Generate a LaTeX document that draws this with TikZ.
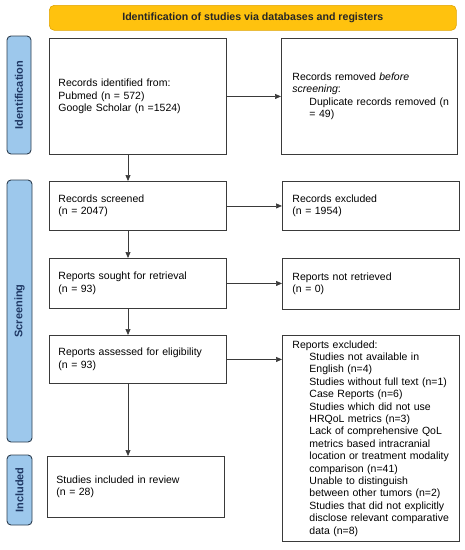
\documentclass[tikz,border=0pt]{standalone}
\usepackage{fontspec}
\setmainfont{Liberation Sans}
\usetikzlibrary{arrows.meta}
\definecolor{barfill}{HTML}{FFC20E}
\definecolor{barline}{HTML}{E0A400}
\definecolor{sidefill}{HTML}{9DC8EC}
\definecolor{sideline}{HTML}{2D3E50}
\definecolor{sidetext}{HTML}{1F3864}
\definecolor{boxline}{HTML}{3A3A3A}
\newcommand{\ind}{\hspace*{17pt}}
\tikzset{
  box/.style={draw=boxline, line width=0.9pt, anchor=north west, align=left,
    inner xsep=9pt, inner ysep=0pt, font=\fontsize{10.5}{12.4}\selectfont},
  side/.style={draw=sideline, fill=sidefill, line width=0.9pt, rounded corners=4pt},
  sidelabel/.style={rotate=90, font=\bfseries\fontsize{11}{12}\selectfont, text=sidetext},
  arr/.style={draw=boxline, line width=0.7pt, -{Triangle[length=6pt,width=5pt]}}
}
\begin{document}
\begin{tikzpicture}[x=1pt, y=-1pt]
\useasboundingbox (0,0) rectangle (465,550);
% title bar
\node[draw=barline, fill=barfill, line width=0.6pt, rounded corners=5pt, anchor=north west,
  minimum width=407pt, minimum height=25pt, inner sep=0pt,
  font=\bfseries\fontsize{10.6}{12}\selectfont, text=black!85] (title) at (49,5)
  {Identification of studies via databases and registers};
% side labels
\draw[side] (7,36) rectangle (31,154);
\node[sidelabel] (lid) at (19,95) {Identification};
\draw[side] (7,180) rectangle (32,442);
\node[sidelabel] (lsc) at (19.5,311) {Screening};
\draw[side] (7,455) rectangle (32,525);
\node[sidelabel] (lin) at (19.5,490) {Included};
% boxes
\node[box, minimum width=177pt, minimum height=116pt, text width=159pt] (ident) at (49,38)
  {Records identified from:\\Pubmed (n = 572)\\Google Scholar (n =1524)};
\node[box, minimum width=176pt, minimum height=116pt, text width=154pt, inner xsep=11pt] (removed) at (281,38)
  {Records removed \textit{before}\\\textit{screening}:\\\ind\rlap{Duplicate records removed (n}\\\ind = 49)\\[8pt]};
\node[box, minimum width=177pt, minimum height=49pt, text width=159pt] (screened) at (49,181)
  {Records screened\\(n = 2047)};
\node[box, minimum width=177pt, minimum height=49pt, text width=157pt, inner xsep=10pt] (excl) at (282,181)
  {Records excluded\\(n = 1954)};
\node[box, minimum width=177pt, minimum height=50pt, text width=159pt] (sought) at (49,258)
  {Reports sought for retrieval\\(n = 93)};
\node[box, minimum width=177pt, minimum height=51pt, text width=157pt, inner xsep=10pt] (notret) at (282,258)
  {Reports not retrieved\\(n = 0)};
\node[box, minimum width=177pt, minimum height=48pt, text width=159pt] (assessed) at (49,335)
  {Reports assessed for eligibility\\(n = 93)};
\node[box, minimum width=177pt, minimum height=206pt, text width=157pt, inner xsep=10pt] (repexcl) at (282,335)
  {Reports excluded:\\
   \ind Studies not available in\\
   \ind English (n=4)\\
   \ind Studies without full text (n=1)\\
   \ind Case Reports (n=6)\\
   \ind Studies which did not use\\
   \ind HRQoL metrics (n=3)\\
   \ind Lack of comprehensive QoL\\
   \ind metrics based intracranial\\
   \ind location or treatment modality\\
   \ind comparison (n=41)\\
   \ind Unable to distinguish\\
   \ind between other tumors (n=2)\\
   \ind Studies that did not explicitly\\
   \ind disclose relevant comparative\\
   \ind data (n=8)};
\node[box, minimum width=177pt, minimum height=61pt, text width=159pt] (incl) at (47,456)
  {Studies included in review\\(n = 28)};
% arrows
\draw[arr] (ident.east) -- (ident.east -| removed.west);
\draw[arr] (screened.east) -- (screened.east -| excl.west);
\draw[arr] (sought.east) -- (sought.east -| notret.west);
\draw[arr] (assessed.east) -- (assessed.east -| repexcl.west);
\draw[arr] ([xshift=79pt]ident.south west) -- ([xshift=79pt]ident.south west |- screened.north);
\draw[arr] ([xshift=79pt]screened.south west) -- ([xshift=79pt]screened.south west |- sought.north);
\draw[arr] ([xshift=79pt]sought.south west) -- ([xshift=79pt]sought.south west |- assessed.north);
\draw[arr] ([xshift=79pt]assessed.south west) -- ([xshift=79pt]assessed.south west |- incl.north);
\end{tikzpicture}
\end{document}
